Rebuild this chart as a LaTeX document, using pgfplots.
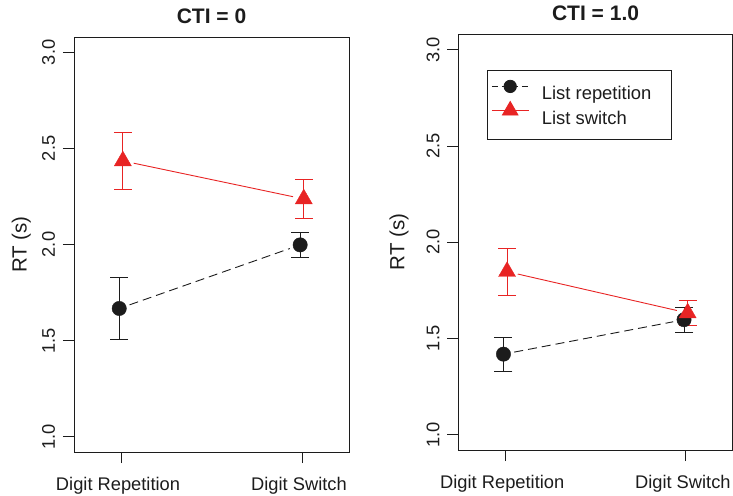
\documentclass[border=0pt]{standalone}
\usepackage{fontspec}
\setmainfont{Liberation Sans}
\usepackage{pgfplots}
\usepackage{pgfplotstable}
\pgfplotsset{compat=1.18}
\definecolor{rred}{RGB}{232,36,36}
\definecolor{rblack}{RGB}{28,28,28}

% columns: x, mean, error
\pgfplotstableread{
x y e
0.99 1.667 0.161
1.99 1.998 0.067
}\leftrep
\pgfplotstableread{
x y e
1.01 2.435 0.147
2.01 2.237 0.103
}\leftsw
\pgfplotstableread{
x y e
0.99 1.418 0.089
1.99 1.597 0.064
}\rightrep
\pgfplotstableread{
x y e
1.01 1.847 0.122
2.01 1.632 0.067
}\rightsw

\pgfplotsset{
  rpanel/.style={
    scale only axis,
    xmin=0.74, xmax=2.26, ymin=0.92, ymax=3.08,
    xtick={1,2}, xticklabels={Digit Repetition, Digit Switch},
    ytick={1,1.5,2,2.5,3}, yticklabels={1.0,1.5,2.0,2.5,3.0},
    tick align=outside, xtick pos=bottom, ytick pos=left,
    major tick length=11pt,
    tick style={line width=0.8pt, rblack},
    axis line style={line width=0.8pt, rblack},
    ticklabel style={font=\fontsize{18.3}{22}\selectfont, text=rblack},
    xticklabel style={anchor=base, yshift=-27pt, xshift=-3pt},
    yticklabel style={xshift=-8pt, rotate=90, anchor=base},
    every axis title/.style={at={(0.5,1)}, anchor=base, yshift=13.7pt, font=\bfseries\fontsize{21}{25}\selectfont, text=rblack},
    clip=false,
  },
  repline/.style={rblack, line width=0.9pt, dash pattern=on 9pt off 5pt, shorten <=11pt, shorten >=11pt},
  swline/.style={rred, line width=0.9pt, shorten <=11pt, shorten >=11pt},
  repmarks/.style={rblack, only marks, mark=*, mark size=7.2pt,
    error bars/y dir=both, error bars/y explicit,
    error bars/error bar style={line width=0.9pt, rblack},
    error bars/error mark options={rotate=90, mark size=9pt, line width=0.9pt, rblack}},
  swmarks/.style={rred, only marks, mark=triangle*, mark size=9.8pt,
    error bars/y dir=both, error bars/y explicit,
    error bars/error bar style={line width=0.9pt, rred},
    error bars/error mark options={rotate=90, mark size=9pt, line width=0.9pt, rred}},
}

\begin{document}
\begin{tikzpicture}
\useasboundingbox (0,0) rectangle (733pt,495pt);

\begin{axis}[rpanel, at={(74pt,43pt)}, anchor=south west,
  width=275pt, height=415pt, title={CTI = 0},
  ylabel={RT (s)},
  every axis y label/.style={at={(axis description cs:0,0.5)}, xshift=-47.5pt, rotate=90, anchor=base, font=\fontsize{20.5}{24}\selectfont, text=rblack}]
\addplot[repline] table[x=x, y=y] {\leftrep};
\addplot[repmarks] table[x=x, y=y, y error=e] {\leftrep};
\addplot[swline] table[x=x, y=y] {\leftsw};
\addplot[swmarks] table[x=x, y=y, y error=e] {\leftsw};
\end{axis}

\begin{axis}[rpanel, at={(458.3pt,45pt)}, anchor=south west,
  width=274.5pt, height=415.7pt, title={CTI = 1.0},
  ylabel={RT (s)},
  every axis y label/.style={at={(axis description cs:0,0.5)}, xshift=-54pt, rotate=90, anchor=base, font=\fontsize{20.5}{24}\selectfont, text=rblack},
  legend cell align=left,
  legend style={at={(0.1035,0.9149)}, anchor=north west, draw=rblack, line width=0.8pt,
    inner xsep=4.3pt, inner ysep=10.15pt, row sep=-4pt,
    font=\fontsize{18.4}{22}\selectfont, text=rblack,
    nodes={inner sep=0pt, text height=19.45pt, text depth=5.55pt},
    /tikz/every odd column/.append style={column sep=12.9pt}}]
\addplot[repline, forget plot] table[x=x, y=y] {\rightrep};
\addplot[repmarks, legend image code/.code={
    \draw[rblack, line width=0.9pt, dash pattern=on 6pt off 4pt] (0pt,6.6pt) -- (36.7pt,6.6pt);
    \draw[rblack] plot[mark=*, mark size=6.2pt] coordinates {(18.35pt,6.6pt)};}]
  table[x=x, y=y, y error=e] {\rightrep};
\addlegendentry{\makebox[125pt][l]{List repetition}}
\addplot[swline, forget plot] table[x=x, y=y] {\rightsw};
\addplot[swmarks, legend image code/.code={
    \draw[rred, line width=0.9pt] (0pt,6.6pt) -- (36.7pt,6.6pt);
    \draw[rred] plot[mark=triangle*, mark size=9pt] coordinates {(18.35pt,6.6pt)};}]
  table[x=x, y=y, y error=e] {\rightsw};
\addlegendentry{\makebox[125pt][l]{List switch}}
\end{axis}
\end{tikzpicture}
\end{document}
